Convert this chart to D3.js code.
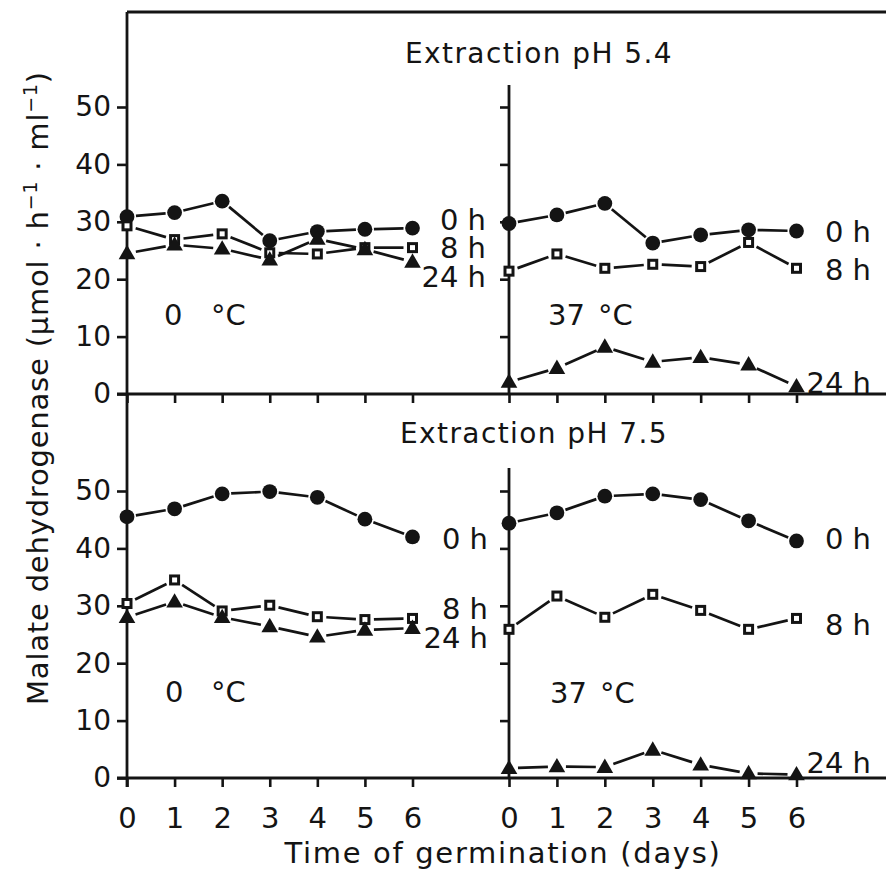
<!DOCTYPE html>
<html><head><meta charset="utf-8">
<script src="https://cdn.jsdelivr.net/npm/d3@7"></script>
<style>
html,body{margin:0;padding:0;background:#fff;}
svg{display:block;}
text{font-family:"DejaVu Sans",sans-serif;fill:#141414;}
</style></head>
<body>
<svg id="c" width="886" height="880"></svg>
<script>
// ---- data ----
const days = [0, 1, 2, 3, 4, 5, 6];
const yTicks = [0, 10, 20, 30, 40, 50];
const xTickLabels = ["0", "1", "2", "3", "4", "5", "6"];
const seriesNames = ["0 h", "8 h", "24 h"];

const pH54_0C_0h  = [30.9, 31.6, 33.6, 26.7, 28.3, 28.7, 28.9];
const pH54_0C_8h  = [29.3, 26.9, 27.9, 24.6, 24.4, 25.5, 25.5];
const pH54_0C_24h = [24.5, 26.0, 25.3, 23.4, 27.0, 25.2, 23.0];
const pH54_37C_0h  = [29.7, 31.2, 33.2, 26.3, 27.7, 28.6, 28.4];
const pH54_37C_8h  = [21.4, 24.4, 21.9, 22.6, 22.2, 26.4, 21.9];
const pH54_37C_24h = [2.1, 4.5, 8.2, 5.6, 6.4, 5.1, 1.3];
const pH75_0C_0h  = [45.5, 46.9, 49.5, 49.9, 48.9, 45.1, 42.0];
const pH75_0C_8h  = [30.4, 34.5, 29.1, 30.1, 28.1, 27.6, 27.8];
const pH75_0C_24h = [28.0, 30.7, 28.0, 26.4, 24.6, 25.8, 26.1];
const pH75_37C_0h  = [44.4, 46.2, 49.1, 49.5, 48.5, 44.8, 41.3];
const pH75_37C_8h  = [25.9, 31.7, 28.0, 32.0, 29.2, 25.9, 27.8];
const pH75_37C_24h = [1.7, 2.0, 1.9, 4.9, 2.3, 0.8, 0.6];

const titles = ["Extraction pH 5.4", "Extraction pH 7.5"];

// ---- layout ----
const svg = d3.select("#c");
const ink = "#141414";
const xL = d3.scaleLinear().domain([0, 6]).range([127, 412.5]);
const xR = d3.scaleLinear().domain([0, 6]).range([509, 796.5]);
const yT = d3.scaleLinear().domain([0, 50]).range([394, 107]);
const yB = d3.scaleLinear().domain([0, 50]).range([778, 491]);

const panels = [
  {x: xL, y: yT, s: [pH54_0C_0h, pH54_0C_8h, pH54_0C_24h]},
  {x: xR, y: yT, s: [pH54_37C_0h, pH54_37C_8h, pH54_37C_24h]},
  {x: xL, y: yB, s: [pH75_0C_0h, pH75_0C_8h, pH75_0C_24h]},
  {x: xR, y: yB, s: [pH75_37C_0h, pH75_37C_8h, pH75_37C_24h]}
];

function line(x1, y1, x2, y2, w) {
  svg.append("line").attr("x1", x1).attr("y1", y1).attr("x2", x2).attr("y2", y2)
    .attr("stroke", ink).attr("stroke-width", w || 2.8);
}

// frame / axis lines
line(127, 12, 886, 12);
line(127, 12, 127, 787);
line(117, yT(0), 886, yT(0));
line(117, yB(0), 886, yB(0));
line(xR(0), 85, xR(0), yT(0));
line(xR(0), 468, xR(0), yB(0));

function styleAxis(g, fs) {
  g.select(".domain").remove();
  g.selectAll(".tick line").attr("stroke", ink).attr("stroke-width", 2.6);
  g.selectAll(".tick text").attr("font-size", fs).attr("fill", ink)
    .attr("font-family", "DejaVu Sans, sans-serif");
}

// left y axes with labels
[yT, yB].forEach(y => {
  const g = svg.append("g").attr("transform", "translate(127,0)")
    .call(d3.axisLeft(y).tickValues(yTicks).tickSize(10).tickPadding(6).tickFormat(d3.format("d")));
  styleAxis(g, 28);
});
// right panel y axes (no labels)
[yT, yB].forEach(y => {
  const g = svg.append("g").attr("transform", `translate(${xR(0)},0)`)
    .call(d3.axisLeft(y).tickValues(yTicks.slice(1)).tickSize(9).tickFormat(""));
  styleAxis(g, 28);
});
// x axes: top panel ticks only, bottom with labels
[xL, xR].forEach(x => {
  const gt = svg.append("g").attr("transform", `translate(0,${yT(0)})`)
    .call(d3.axisBottom(x).tickValues(days).tickSize(9).tickFormat(""));
  styleAxis(gt, 28);
  const gb = svg.append("g").attr("transform", `translate(0,${yB(0)})`)
    .call(d3.axisBottom(x).tickValues(days).tickSize(9).tickPadding(20)
      .tickFormat((d, i) => xTickLabels[i]));
  styleAxis(gb, 29);
});

// series
const gap = 9;
panels.forEach(p => {
  p.s.forEach((vals, si) => {
    const pts = days.map((d, i) => [p.x(d), p.y(vals[i])]);
    for (let i = 0; i < pts.length - 1; i++) {
      const [x1, y1] = pts[i], [x2, y2] = pts[i + 1];
      const dx = x2 - x1, dy = y2 - y1, L = Math.hypot(dx, dy);
      if (L <= 2 * gap) continue;
      const ux = dx / L, uy = dy / L;
      line(x1 + ux * gap, y1 + uy * gap, x2 - ux * gap, y2 - uy * gap, 2.7);
    }
    const g = svg.append("g");
    pts.forEach(([cx, cy]) => {
      if (si === 0) {
        g.append("circle").attr("cx", cx).attr("cy", cy).attr("r", 7.4).attr("fill", ink);
      } else if (si === 1) {
        g.append("rect").attr("x", cx - 4).attr("y", cy - 4).attr("width", 8).attr("height", 8)
          .attr("fill", "#fff").attr("stroke", ink).attr("stroke-width", 3);
      } else {
        g.append("path").attr("transform", `translate(${cx},${cy + 1})`)
          .attr("d", d3.symbol(d3.symbolTriangle, 120)()).attr("fill", ink);
      }
    });
  });
});

// text helpers
function txt(x, y, s, fs, anchor) {
  return svg.append("text").attr("x", x).attr("y", y).attr("font-size", fs || 29)
    .attr("text-anchor", anchor || "start").text(s);
}
function fitWidth(sel, target) {
  const node = sel.node();
  const L = node.getComputedTextLength();
  const n = node.textContent.length;
  if (L < target && n > 1) sel.attr("letter-spacing", ((target - L) / n).toFixed(2));
  return sel;
}

fitWidth(txt(539, 63, titles[0], 28, "middle"), 268);
fitWidth(txt(534, 443, titles[1], 28, "middle"), 268);

// series labels (right-aligned)
txt(486, 230, seriesNames[0], 29, "end");
txt(486, 258, seriesNames[1], 29, "end");
txt(486, 287, seriesNames[2], 29, "end");
txt(871, 242, seriesNames[0], 29, "end");
txt(871, 280, seriesNames[1], 29, "end");
txt(871, 393, seriesNames[2], 29, "end");
txt(488, 549, seriesNames[0], 29, "end");
txt(488, 619, seriesNames[1], 29, "end");
txt(488, 648, seriesNames[2], 29, "end");
txt(871, 549, seriesNames[0], 29, "end");
txt(871, 635, seriesNames[1], 29, "end");
txt(871, 773, seriesNames[2], 29, "end");

// temperatures
txt(164, 325, "0", 29); txt(211, 325, "°C", 29);
txt(548, 325, "37", 29); txt(598, 325, "°C", 29);
txt(165, 702, "0", 29); txt(211, 702, "°C", 29);
txt(550, 703, "37", 29); txt(600, 703, "°C", 29);

// axis titles
fitWidth(txt(503, 863, "Time of germination (days)", 29, "middle"), 437);
const yl = svg.append("text").attr("transform", "translate(48,388) rotate(-90)")
  .attr("text-anchor", "middle").attr("font-size", 29);
yl.append("tspan").text("Malate dehydrogenase (μmol · h");
yl.append("tspan").attr("font-size", 19).attr("dy", -11).text("−1");
yl.append("tspan").attr("dy", 11).text(" · ml");
yl.append("tspan").attr("font-size", 19).attr("dy", -11).text("−1");
yl.append("tspan").attr("dy", 11).text(")");
fitWidth(yl, 634);
</script>
</body></html>
